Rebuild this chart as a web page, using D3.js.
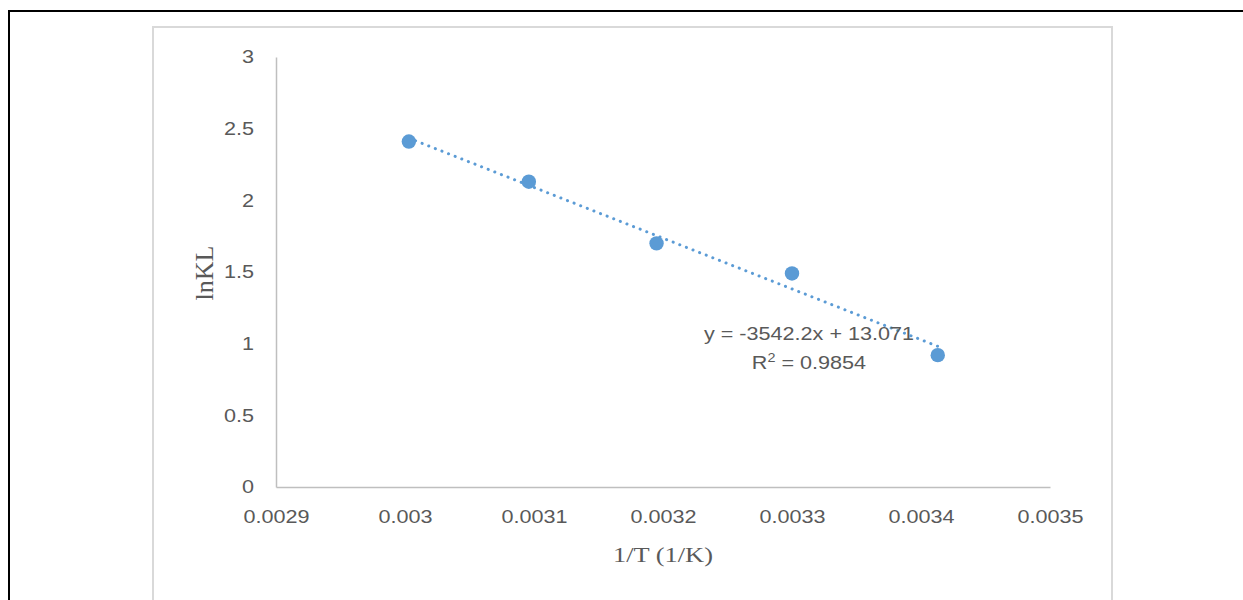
<!DOCTYPE html>
<html>
<head>
<meta charset="utf-8">
<script src="https://cdn.jsdelivr.net/npm/d3@7"></script>
<style>
  body { margin: 0; background: #fff; }
  svg { display: block; }
  .tick text { font-family: "Liberation Sans", Arial, sans-serif; font-size: 18px; fill: #595959; }
  .axis path { stroke: #bfbfbf; stroke-width: 1.5; }
  .title { font-family: "Liberation Serif", "Times New Roman", serif; fill: #595959; }
  .eq { font-family: "Liberation Sans", Arial, sans-serif; font-size: 18px; fill: #595959; }
</style>
</head>
<body>
<svg id="vis" width="1243" height="600"></svg>
<script>
// 1/T values (1/K) and ln KL
var invT = [0.003003, 0.003096, 0.003195, 0.003300, 0.003413];
var lnKL = [2.41, 2.13, 1.70, 1.49, 0.92];
var xTicks = [0.0029, 0.003, 0.0031, 0.0032, 0.0033, 0.0034, 0.0035];
var yTicks = [0, 0.5, 1, 1.5, 2, 2.5, 3];
// trendline from the equation printed on the chart
var slope = -3542.2, intercept = 13.071;
var eqText = "y = -3542.2x + 13.071";

var svg = d3.select("#vis");
var stretch = "scale(1.2,1)";

var xScale = d3.scaleLinear().domain([0.0029, 0.0035]).range([276, 1050]);
var yScale = d3.scaleLinear().domain([0, 3]).range([487, 57]);

// page frame lines
svg.append("line").attr("x1", 9).attr("y1", 11).attr("x2", 1243).attr("y2", 11)
   .attr("stroke", "#000").attr("stroke-width", 2);
svg.append("line").attr("x1", 9).attr("y1", 10).attr("x2", 9).attr("y2", 600)
   .attr("stroke", "#000").attr("stroke-width", 2);

// chart area border
svg.append("rect").attr("x", 153).attr("y", 27).attr("width", 959).attr("height", 600)
   .attr("fill", "#fff").attr("stroke", "#d9d9d9").attr("stroke-width", 2);

// axes
var xAxis = svg.append("g")
   .attr("class", "axis")
   .attr("transform", "translate(0," + yScale(0) + ")")
   .call(d3.axisBottom(xScale).tickValues(xTicks).tickSize(0).tickPadding(23)
           .tickFormat(d => String(+d.toFixed(4))));
xAxis.selectAll("text").attr("transform", stretch);

var yAxis = svg.append("g")
   .attr("class", "axis")
   .attr("transform", "translate(" + xScale(0.0029) + ",0)")
   .call(d3.axisLeft(yScale).tickValues(yTicks).tickSize(0).tickPadding(18.3)
           .tickFormat(d => String(d)));
yAxis.selectAll("text").attr("transform", stretch);

// dotted trendline
var x0 = d3.min(invT), x1 = d3.max(invT);
svg.append("line")
   .attr("x1", xScale(x0)).attr("y1", yScale(slope * x0 + intercept))
   .attr("x2", xScale(x1)).attr("y2", yScale(slope * x1 + intercept))
   .attr("stroke", "#5b9bd5")
   .attr("stroke-width", 3)
   .attr("stroke-linecap", "round")
   .attr("stroke-dasharray", "0.1 7");

// points
svg.selectAll("circle.pt")
   .data(invT.map((d, i) => [d, lnKL[i]]))
   .enter()
   .append("circle")
   .attr("class", "pt")
   .attr("cx", d => xScale(d[0]))
   .attr("cy", d => yScale(d[1]))
   .attr("r", 7.2)
   .attr("fill", "#5b9bd5");

// equation label
var eq = svg.append("g").attr("transform", "translate(809,0) " + stretch);
eq.append("text").attr("class", "eq").attr("y", 340).attr("text-anchor", "middle").text(eqText);
var r2 = eq.append("text").attr("class", "eq").attr("y", 369).attr("text-anchor", "middle");
r2.append("tspan").text("R");
r2.append("tspan").attr("font-size", 12).attr("dy", -7).text("2");
r2.append("tspan").attr("dy", 7).text(" = 0.9854");

// axis titles
svg.append("text")
   .attr("class", "title")
   .attr("font-size", 26)
   .attr("text-anchor", "middle")
   .attr("transform", "translate(213,273) rotate(-90)")
   .text("lnKL");

svg.append("text")
   .attr("class", "title")
   .attr("font-size", 22)
   .attr("text-anchor", "middle")
   .attr("transform", "translate(663,562) " + stretch)
   .text("1/T (1/K)");
</script>
</body>
</html>
